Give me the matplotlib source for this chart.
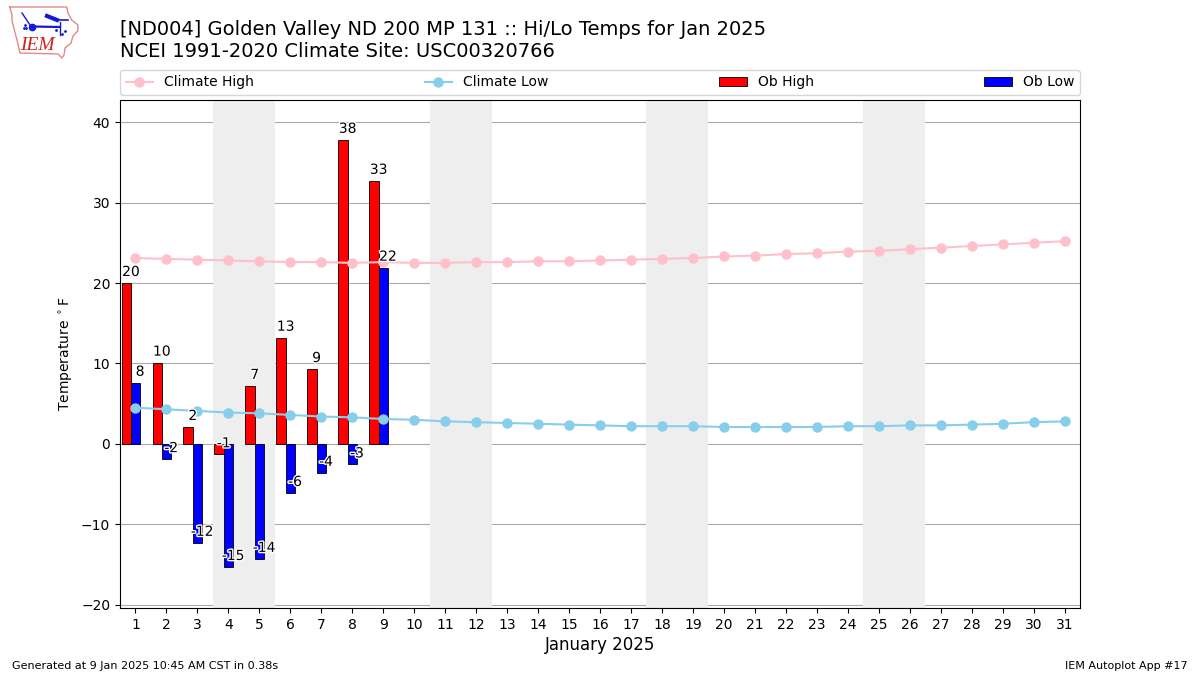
import matplotlib
matplotlib.use("Agg")
import matplotlib.pyplot as plt
import matplotlib.patheffects as pe
import numpy as np

days = list(range(1, 32))
climate_high = [23.1,23.0,22.9,22.8,22.7,22.6,22.6,22.5,22.6,22.5,22.5,22.6,22.6,22.7,22.7,22.8,
                22.9,23.0,23.1,23.3,23.4,23.6,23.7,23.9,24.0,24.2,24.4,24.6,24.8,25.0,25.2]
climate_low = [4.5,4.3,4.1,3.9,3.8,3.6,3.4,3.3,3.1,3.0,2.8,2.7,2.6,2.5,2.4,2.3,
               2.2,2.2,2.2,2.1,2.1,2.1,2.1,2.2,2.2,2.3,2.3,2.4,2.5,2.7,2.8]
ob_days = [1,2,3,4,5,6,7,8,9]
ob_high = [20.0,10.1,2.1,-1.3,7.2,13.2,9.3,37.8,32.7]
ob_low = [7.6,-1.9,-12.3,-15.3,-14.3,-6.1,-3.6,-2.55,21.9]
weekends = [(3.5,5.5),(10.5,12.5),(17.5,19.5),(24.5,26.5)]

W, H = 1200, 675
fig = plt.figure(figsize=(12, 6.75), dpi=100)
ax = fig.add_axes([120/W, 1-608/H, 960/W, 508/H])

for a, b in weekends:
    ax.axvspan(a, b, color="#eeeeee", lw=0, zorder=1)
ax.yaxis.grid(True, color="#aaaaaa", lw=0.8, zorder=1.5)
ax.set_axisbelow(True)

d = np.array(ob_days)
ax.bar(d-0.3, ob_high, width=0.3, color="red", edgecolor="black", lw=0.6, label="Ob High", zorder=2)
ax.bar(d, ob_low, width=0.3, color="blue", edgecolor="black", lw=0.6, label="Ob Low", zorder=2)
ax.plot(days, climate_high, "-o", color="pink", lw=1.5, ms=6.5, label="Climate High", zorder=3)
ax.plot(days, climate_low, "-o", color="skyblue", lw=1.5, ms=6.5, label="Climate Low", zorder=3)

stroke = [pe.withStroke(linewidth=2, foreground="white")]
for x, v in zip(d-0.15, ob_high):
    ax.text(x, v+0.5, f"{v:.0f}", ha="center", va="bottom", fontsize=10, zorder=4, path_effects=stroke)
for x, v in zip(d+0.15, ob_low):
    ax.text(x, v+0.5, f"{v:.0f}", ha="center", va="bottom", fontsize=10, zorder=4, path_effects=stroke)

ax.set_xlim(0.5, 31.5)
ax.set_ylim(-20.4, 42.75)
ax.set_xticks(days)
ax.set_yticks([-20,-10,0,10,20,30,40])
ax.tick_params(labelsize=10)
ax.set_xlabel("January 2025", fontsize=12, labelpad=3)
ax.set_ylabel(r"Temperature $^\circ$F", fontsize=10, labelpad=4)

h, l = ax.get_legend_handles_labels()
order = [l.index(n) for n in ["Climate High","Climate Low","Ob High","Ob Low"]]
ax.legend([h[i] for i in order], [l[i] for i in order], ncol=4, mode="expand",
          loc="lower left", bbox_to_anchor=(0, 1.0+5/508, 1, 0.05), borderaxespad=0, fontsize=10)

fig.text(120/W, 1-39/H, "[ND004] Golden Valley ND 200 MP 131 :: Hi/Lo Temps for Jan 2025", fontsize=14, va="bottom", ha="left")
fig.text(120/W, 1-61/H, "NCEI 1991-2020 Climate Site: USC00320766", fontsize=14, va="bottom", ha="left")
fig.text(12/W, 1-666/H, "Generated at 9 Jan 2025 10:45 AM CST in 0.38s", fontsize=8, va="center", ha="left")
fig.text(1188/W, 1-666/H, "IEM Autoplot App #17", fontsize=8, va="center", ha="right")

# IEM logo (decorative), in pixel coordinates
lg = fig.add_axes([0, 0, 1, 1], facecolor="none", zorder=5)
lg.set_xlim(0, W); lg.set_ylim(H, 0); lg.axis("off")
ox = [9.7,66.7,68,71.7,78,77.7,73,71,65,64,62,58,20,17,12,12,9.7]
oy = [7,7,13,20,25,31,36,43,48,55,58,54,53,40,21,15,7]
lg.plot(ox, oy, color="#e08a8a", lw=1)
lg.text(20.5, 45, "IEM", color="#d02020", family="Liberation Serif", style="italic", fontsize=14, ha="left", va="center")
blue = "#1818d8"
lg.plot([31.7,60],[26.5,27], color=blue, lw=1.6)
lg.plot([31.7],[26.5], "o", color=blue, ms=4.5)
lg.plot([60,60],[22,35], color=blue, lw=1)
lg.plot([47,57],[16,20], color=blue, lw=3)
lg.plot([57,68],[20,20], color=blue, lw=1.2)
lg.plot([22,30],[13,25], color=blue, lw=1)
lg.plot([24,25,26],[28,25,28], ".", color=blue, ms=2)
lg.plot([56,62,65],[30,34,31], ".", color=blue, ms=2)

fig.savefig("out.png", dpi=100)
